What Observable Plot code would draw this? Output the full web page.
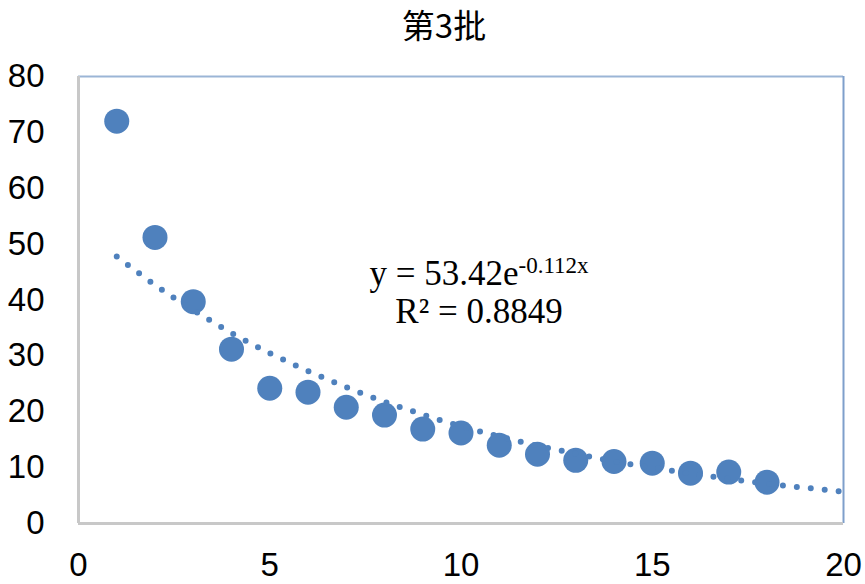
<!DOCTYPE html>
<html>
<head>
<meta charset="utf-8">
<script src="https://cdn.jsdelivr.net/npm/d3@7"></script>
<script src="https://cdn.jsdelivr.net/npm/@observablehq/plot@0.6"></script>
<style>
  html, body { margin: 0; padding: 0; background: #fff; }
  #wrap { position: relative; width: 865px; height: 584px; }
  #title { position: absolute; left: 344px; width: 200px; top: 4px; text-align: center;
           font-family: "Noto Sans CJK SC", sans-serif; font-size: 33px; line-height: 40px; color: #000; }
  .eq { position: absolute; left: 329px; width: 300px; text-align: center; white-space: nowrap;
        font-family: "Liberation Serif", "Times New Roman", serif; font-size: 35px; line-height: 40px; color: #000; }
  .eq sup { font-size: 23px; vertical-align: 12px; line-height: 0; }
</style>
</head>
<body>
<div id="wrap">
  <div id="chart"></div>
  <div id="title"></div>
  <div class="eq" id="eq1" style="top:254px"></div>
  <div class="eq" id="eq2" style="top:292px"></div>
</div>
<script>
const titleText = "第3批";
const eqMain = "y = 53.42e";
const eqExp = "-0.112x";
const r2Text = "R² = 0.8849";

const xs = [1, 2, 3, 4, 5, 6, 7, 8, 9, 10, 11, 12, 13, 14, 15, 16, 17, 18];
const ys = [72.0, 51.2, 39.7, 31.2, 24.2, 23.5, 20.8, 19.4, 16.9, 16.2, 14.0, 12.4, 11.3, 11.1, 10.8, 9.0, 9.2, 7.4];

const trendX = [1, 2, 3, 4, 5, 6, 7, 8, 9, 10, 11, 12, 13, 14, 15, 16, 17, 18, 19, 20];
const trendY = [47.8, 42.7, 38.2, 34.1, 30.5, 27.3, 24.4, 21.8, 19.5, 17.4, 15.6, 13.9, 12.5, 11.1, 10.0, 8.9, 8.0, 7.1, 6.4, 5.7];

const xTicks = [0, 5, 10, 15, 20];
const yTicks = [0, 10, 20, 30, 40, 50, 60, 70, 80];

const points = xs.map((x, i) => ({x, y: ys[i]}));
const trend = trendX.map((x, i) => ({x, y: trendY[i]}));

const color = "#4F81BD";

const chart = Plot.plot({
  width: 865,
  height: 584,
  marginLeft: 78,
  marginRight: 22,
  marginTop: 76,
  marginBottom: 61,
  style: { fontFamily: "'Liberation Sans', Arial, sans-serif", fontSize: "33px", color: "#000", background: "#fff" },
  x: { domain: [0, 20] },
  y: { domain: [0, 80] },
  marks: [
    Plot.ruleY([80], { stroke: "#9BB5D6", strokeWidth: 2 }),
    Plot.ruleX([20], { stroke: "#7F9FCB", strokeWidth: 2 }),
    Plot.ruleX([0], { stroke: "#C8C8C8", strokeWidth: 3 }),
    Plot.ruleY([0], { stroke: "#C8C8C8", strokeWidth: 3 }),
    Plot.axisX({ ticks: xTicks, tickSize: 0, tickPadding: 29, label: null, fill: "#000" }),
    Plot.axisY({ ticks: yTicks, tickSize: 0, tickPadding: 34, label: null, fill: "#000" }),
    Plot.dot(points, { x: "x", y: "y", r: 12.5, fill: color, stroke: null }),
    Plot.line(trend, { x: "x", y: "y", stroke: color, strokeWidth: 6, strokeDasharray: "0 14", strokeLinecap: "round", curve: "natural" })
  ]
});
document.getElementById("chart").appendChild(chart);
document.getElementById("title").textContent = titleText;
const eq1 = document.getElementById("eq1");
eq1.textContent = eqMain;
const sup = document.createElement("sup");
sup.textContent = eqExp;
eq1.appendChild(sup);
document.getElementById("eq2").textContent = r2Text;
</script>
</body>
</html>
